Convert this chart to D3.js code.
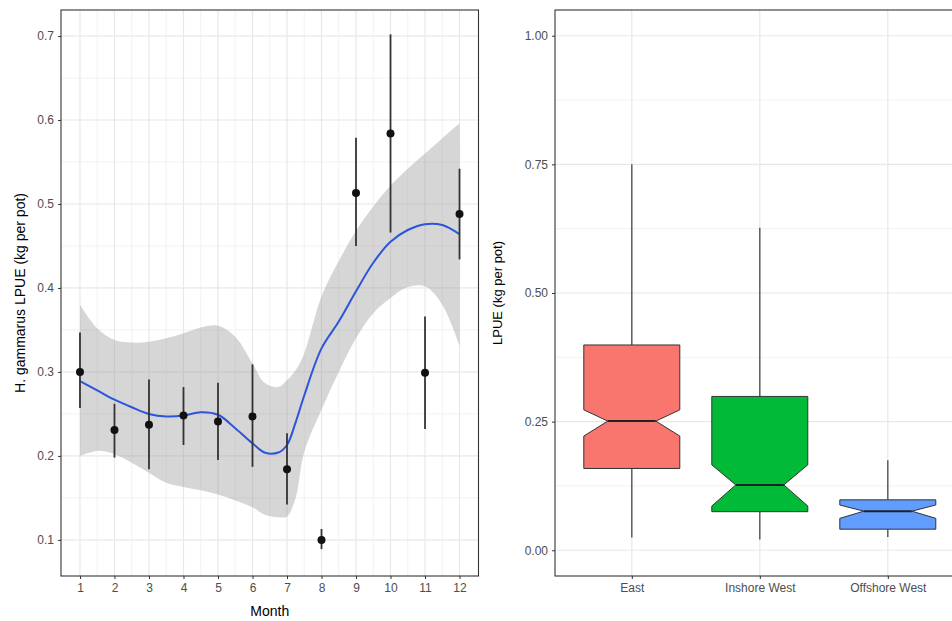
<!DOCTYPE html>
<html>
<head>
<meta charset="utf-8">
<script src="https://cdn.jsdelivr.net/npm/d3@7"></script>
<style>
  body { margin: 0; background: #fff; }
  text { font-family: "Liberation Sans", Arial, sans-serif; }
</style>
</head>
<body>
<svg id="chart" width="952" height="621"></svg>
<script>
/// DATA ///
const months = [1, 2, 3, 4, 5, 6, 7, 8, 9, 10, 11, 12];
const monthMean = [0.300, 0.231, 0.237, 0.248, 0.241, 0.247, 0.184, 0.100, 0.513, 0.584, 0.299, 0.488];
const monthLow  = [0.257, 0.198, 0.184, 0.213, 0.195, 0.187, 0.142, 0.089, 0.450, 0.466, 0.232, 0.434];
const monthHigh = [0.347, 0.262, 0.291, 0.282, 0.287, 0.309, 0.227, 0.113, 0.579, 0.702, 0.366, 0.542];

// smoother
const smoothX     = [1, 1.5, 2, 2.5, 3, 3.5, 4, 4.5, 5, 5.5, 6, 6.35, 6.75, 7, 7.25, 7.5, 8, 8.5, 9, 9.5, 10, 10.5, 11, 11.5, 12];
const smoothFit   = [0.289, 0.278, 0.267, 0.258, 0.250, 0.247, 0.248, 0.252, 0.249, 0.233, 0.215, 0.204, 0.204, 0.213, 0.240, 0.272, 0.328, 0.360, 0.396, 0.430, 0.455, 0.469, 0.476, 0.475, 0.464];
const smoothUpper = [0.380, 0.352, 0.338, 0.335, 0.336, 0.340, 0.346, 0.353, 0.355, 0.342, 0.310, 0.287, 0.282, 0.290, 0.302, 0.322, 0.390, 0.432, 0.468, 0.497, 0.522, 0.542, 0.560, 0.578, 0.596];
const smoothLower = [0.200, 0.206, 0.202, 0.192, 0.180, 0.168, 0.163, 0.159, 0.154, 0.147, 0.139, 0.130, 0.127, 0.128, 0.150, 0.205, 0.255, 0.300, 0.340, 0.370, 0.388, 0.401, 0.402, 0.380, 0.331];

const areas     = ["East", "Inshore West", "Offshore West"];
const areaFill  = ["#F8766D", "#00BA38", "#619CFF"];
const whiskLow  = [0.025, 0.021, 0.026];
const q1        = [0.159, 0.075, 0.041];
const median    = [0.251, 0.127, 0.076];
const q3        = [0.399, 0.299, 0.098];
const whiskHigh = [0.750, 0.627, 0.175];
const notchLow  = [0.222, 0.086, 0.062];
const notchHigh = [0.273, 0.166, 0.088];

const leftTicks  = [0.1, 0.2, 0.3, 0.4, 0.5, 0.6, 0.7];
const rightTicks = [0, 0.25, 0.5, 0.75, 1];

const svg = d3.select("#chart");
const panelTop = 10, panelBottom = 576;

function panelGrid(g, x0, x1, xs, xsMinor, y, ys, ysMinor) {
  g.append("g").selectAll("line").data(ysMinor).enter().append("line")
    .attr("x1", x0).attr("x2", x1).attr("y1", d => y(d)).attr("y2", d => y(d))
    .attr("stroke", "#efefef").attr("stroke-width", 0.8);
  g.append("g").selectAll("line").data(xsMinor).enter().append("line")
    .attr("y1", panelTop).attr("y2", panelBottom).attr("x1", d => d).attr("x2", d => d)
    .attr("stroke", "#efefef").attr("stroke-width", 0.8);
  g.append("g").selectAll("line").data(ys).enter().append("line")
    .attr("x1", x0).attr("x2", x1).attr("y1", d => y(d)).attr("y2", d => y(d))
    .attr("stroke", "#e8e8e8").attr("stroke-width", 1.2);
  g.append("g").selectAll("line").data(xs).enter().append("line")
    .attr("y1", panelTop).attr("y2", panelBottom).attr("x1", d => d).attr("x2", d => d)
    .attr("stroke", "#e8e8e8").attr("stroke-width", 1.2);
}

/// LEFT PANEL ///
const xL = d3.scaleLinear().domain([0.45, 12.55]).range([61, 478.5]);
const yL = d3.scaleLinear().domain([0.057, 0.731]).range([panelBottom, panelTop]);
const left = svg.append("g");

const minorMonths = d3.range(1.5, 12, 1).map(xL);
const minorLeftY = [0.15, 0.25, 0.35, 0.45, 0.55, 0.65];
panelGrid(left, 61, 478.5, months.map(xL), minorMonths, yL, leftTicks, minorLeftY);

// ribbon
const band = smoothX.map((m, i) => ({ m, lo: smoothLower[i], hi: smoothUpper[i], fit: smoothFit[i] }));
left.append("path")
  .datum(band)
  .attr("d", d3.area().x(d => xL(d.m)).y0(d => yL(d.lo)).y1(d => yL(d.hi)).curve(d3.curveCatmullRom))
  .attr("fill", "#999999").attr("fill-opacity", 0.4);

left.append("path")
  .datum(band)
  .attr("d", d3.line().x(d => xL(d.m)).y(d => yL(d.fit)).curve(d3.curveCatmullRom))
  .attr("fill", "none").attr("stroke", "#2c55dc").attr("stroke-width", 2);

// error bars and points
const pts = months.map((m, i) => ({ m, mean: monthMean[i], lo: monthLow[i], hi: monthHigh[i] }));
left.append("g").selectAll("line").data(pts).enter().append("line")
  .attr("x1", d => xL(d.m)).attr("x2", d => xL(d.m))
  .attr("y1", d => yL(d.lo)).attr("y2", d => yL(d.hi))
  .attr("stroke", "#333").attr("stroke-width", 1.8);
left.append("g").selectAll("circle").data(pts).enter().append("circle")
  .attr("cx", d => xL(d.m)).attr("cy", d => yL(d.mean)).attr("r", 4)
  .attr("fill", "#111");

left.append("rect")
  .attr("x", 61).attr("y", panelTop).attr("width", 478.5 - 61).attr("height", panelBottom - panelTop)
  .attr("fill", "none").attr("stroke", "#333").attr("stroke-width", 1.1);

// axes
left.append("g")
  .attr("transform", `translate(0, ${panelBottom})`)
  .call(d3.axisBottom(xL).tickValues(months).tickSize(3).tickSizeOuter(0).tickPadding(4))
  .call(g => g.select(".domain").remove());
left.append("g")
  .attr("transform", "translate(61, 0)")
  .call(d3.axisLeft(yL).tickValues(leftTicks).tickFormat(d3.format(".1f")).tickSize(3).tickSizeOuter(0).tickPadding(4))
  .call(g => g.select(".domain").remove());

left.append("text")
  .attr("x", xL(6.5)).attr("y", 616)
  .attr("text-anchor", "middle").style("font-size", "14px")
  .text("Month");
left.append("text")
  .attr("transform", `translate(25, ${(panelTop + panelBottom) / 2}) rotate(-90)`)
  .attr("text-anchor", "middle").style("font-size", "14px")
  .text("H. gammarus LPUE (kg per pot)");

/// RIGHT PANEL ///
const xR = d3.scalePoint().domain(areas).range([555, 964.6]).padding(0.6);
const yR = d3.scaleLinear().domain([-0.05, 1.05]).range([panelBottom, panelTop]);
const right = svg.append("g");
const boxW = xR.step() * 0.75;

panelGrid(right, 555, 964.6, areas.map(xR), [], yR, rightTicks, [0.125, 0.375, 0.625, 0.875]);

const boxes = areas.map((a, i) => ({
  a, fill: areaFill[i], wl: whiskLow[i], q1: q1[i], med: median[i], q3: q3[i],
  wh: whiskHigh[i], nl: notchLow[i], nh: notchHigh[i]
}));

// whiskers
right.append("g").selectAll("line").data(boxes).enter().append("line")
  .attr("x1", d => xR(d.a)).attr("x2", d => xR(d.a))
  .attr("y1", d => yR(d.q3)).attr("y2", d => yR(d.wh))
  .attr("stroke", "#555").attr("stroke-width", 1.4);
right.append("g").selectAll("line").data(boxes).enter().append("line")
  .attr("x1", d => xR(d.a)).attr("x2", d => xR(d.a))
  .attr("y1", d => yR(d.q1)).attr("y2", d => yR(d.wl))
  .attr("stroke", "#555").attr("stroke-width", 1.4);

// notched boxes
function notchPath(d) {
  const c = xR(d.a), h = boxW / 2, n = boxW / 4;
  const p = [
    [c - h, yR(d.q3)], [c + h, yR(d.q3)], [c + h, yR(d.nh)], [c + n, yR(d.med)],
    [c + h, yR(d.nl)], [c + h, yR(d.q1)], [c - h, yR(d.q1)], [c - h, yR(d.nl)],
    [c - n, yR(d.med)], [c - h, yR(d.nh)]
  ];
  return "M" + p.map(q => q.join(",")).join("L") + "Z";
}
right.append("g").selectAll("path").data(boxes).enter().append("path")
  .attr("d", notchPath)
  .attr("fill", d => d.fill)
  .attr("stroke", "#333").attr("stroke-width", 1);
right.append("g").selectAll("line").data(boxes).enter().append("line")
  .attr("x1", d => xR(d.a) - boxW / 4).attr("x2", d => xR(d.a) + boxW / 4)
  .attr("y1", d => yR(d.med)).attr("y2", d => yR(d.med))
  .attr("stroke", "#222").attr("stroke-width", 2);

right.append("rect")
  .attr("x", 555).attr("y", panelTop).attr("width", 964.6 - 555).attr("height", panelBottom - panelTop)
  .attr("fill", "none").attr("stroke", "#333").attr("stroke-width", 1.1);

right.append("g")
  .attr("transform", `translate(0, ${panelBottom})`)
  .call(d3.axisBottom(xR).tickSize(3).tickSizeOuter(0).tickPadding(4))
  .call(g => g.select(".domain").remove());
right.append("g")
  .attr("transform", "translate(555, 0)")
  .call(d3.axisLeft(yR).tickValues(rightTicks).tickFormat(d3.format(".2f")).tickSize(3).tickSizeOuter(0).tickPadding(4))
  .call(g => g.select(".domain").remove());

right.append("text")
  .attr("transform", `translate(502, ${(panelTop + panelBottom) / 2}) rotate(-90)`)
  .attr("text-anchor", "middle").style("font-size", "13px")
  .text("LPUE (kg per pot)");

// tick styling, ggplot theme_bw look
svg.selectAll(".tick text")
  .style("font-size", "12px")
  .style("font-family", "'Liberation Sans', Arial, sans-serif")
  .attr("fill", "#4d4d4d");
svg.selectAll(".tick line").attr("stroke", "#333");
</script>
</body>
</html>
